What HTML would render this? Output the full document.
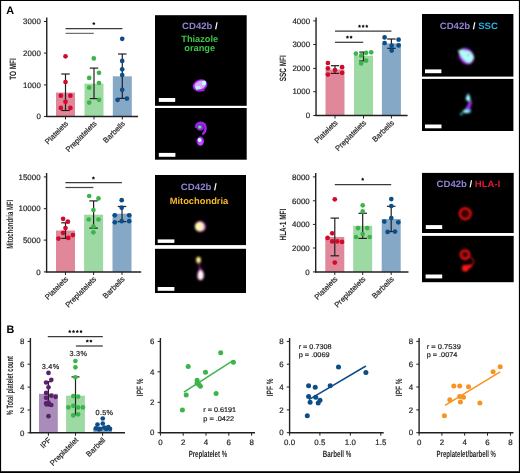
<!DOCTYPE html><html><head><meta charset="utf-8"><style>html,body{margin:0;padding:0;background:#fff;overflow:hidden;}svg{display:block;will-change:transform;}text{font-family:"Liberation Sans",sans-serif;text-rendering:geometricPrecision;}</style></head><body>
<svg width="520" height="473" viewBox="0 0 520 473">
<defs><filter id="bl0" x="-50%" y="-50%" width="200%" height="200%"><feGaussianBlur stdDeviation="0.55"/></filter><filter id="bl1" x="-50%" y="-50%" width="200%" height="200%"><feGaussianBlur stdDeviation="0.8"/></filter><filter id="bl2" x="-50%" y="-50%" width="200%" height="200%"><feGaussianBlur stdDeviation="1.4"/></filter></defs>
<rect x="0.00" y="0.00" width="520.00" height="473.00" fill="#fff" />
<text x="6.20" y="13.80" font-size="10.8" fill="#000" font-weight="bold">A</text>
<text x="6.40" y="333.20" font-size="10.8" fill="#000" font-weight="bold">B</text>
<line x1="46.75" y1="17.50" x2="46.75" y2="116.95" stroke="#231f20" stroke-width="1.4" />
<line x1="43.95" y1="21.50" x2="46.75" y2="21.50" stroke="#231f20" stroke-width="1.0" />
<text x="40.85" y="24.25" font-size="7.9" fill="#231f20" text-anchor="end" letter-spacing="0.05" stroke="#231f20" stroke-width="0.2">3000</text>
<line x1="43.95" y1="53.10" x2="46.75" y2="53.10" stroke="#231f20" stroke-width="1.0" />
<text x="40.85" y="55.85" font-size="7.9" fill="#231f20" text-anchor="end" letter-spacing="0.05" stroke="#231f20" stroke-width="0.2">2000</text>
<line x1="43.95" y1="84.90" x2="46.75" y2="84.90" stroke="#231f20" stroke-width="1.0" />
<text x="40.85" y="87.65" font-size="7.9" fill="#231f20" text-anchor="end" letter-spacing="0.05" stroke="#231f20" stroke-width="0.2">1000</text>
<line x1="43.95" y1="116.45" x2="46.75" y2="116.45" stroke="#231f20" stroke-width="1.0" />
<text x="40.85" y="119.20" font-size="7.9" fill="#231f20" text-anchor="end" letter-spacing="0.05" stroke="#231f20" stroke-width="0.2">0</text>
<rect x="56.00" y="92.60" width="19.00" height="23.85" fill="#e0879a" />
<rect x="84.50" y="83.70" width="19.00" height="32.75" fill="#9dd9a2" />
<rect x="112.80" y="76.30" width="19.00" height="40.15" fill="#86a8c7" />
<line x1="65.50" y1="74.00" x2="65.50" y2="110.50" stroke="#231f20" stroke-width="1.2" />
<line x1="61.25" y1="74.00" x2="69.75" y2="74.00" stroke="#231f20" stroke-width="1.2" />
<line x1="61.25" y1="110.50" x2="69.75" y2="110.50" stroke="#231f20" stroke-width="1.2" />
<line x1="94.00" y1="68.10" x2="94.00" y2="98.60" stroke="#231f20" stroke-width="1.2" />
<line x1="89.75" y1="68.10" x2="98.25" y2="68.10" stroke="#231f20" stroke-width="1.2" />
<line x1="89.75" y1="98.60" x2="98.25" y2="98.60" stroke="#231f20" stroke-width="1.2" />
<line x1="122.30" y1="54.00" x2="122.30" y2="98.40" stroke="#231f20" stroke-width="1.2" />
<line x1="118.05" y1="54.00" x2="126.55" y2="54.00" stroke="#231f20" stroke-width="1.2" />
<line x1="118.05" y1="98.40" x2="126.55" y2="98.40" stroke="#231f20" stroke-width="1.2" />
<circle cx="65.50" cy="56.30" r="2.35" fill="#cf0a2c"/>
<circle cx="65.50" cy="82.10" r="2.35" fill="#cf0a2c"/>
<circle cx="60.80" cy="95.70" r="2.35" fill="#cf0a2c"/>
<circle cx="70.40" cy="95.70" r="2.35" fill="#cf0a2c"/>
<circle cx="65.50" cy="101.80" r="2.35" fill="#cf0a2c"/>
<circle cx="60.80" cy="107.90" r="2.35" fill="#cf0a2c"/>
<circle cx="70.40" cy="107.90" r="2.35" fill="#cf0a2c"/>
<circle cx="93.80" cy="58.40" r="2.35" fill="#3bb54a"/>
<circle cx="89.20" cy="77.90" r="2.35" fill="#3bb54a"/>
<circle cx="99.00" cy="72.80" r="2.35" fill="#3bb54a"/>
<circle cx="99.00" cy="83.00" r="2.35" fill="#3bb54a"/>
<circle cx="89.20" cy="87.70" r="2.35" fill="#3bb54a"/>
<circle cx="89.20" cy="102.60" r="2.35" fill="#3bb54a"/>
<circle cx="99.00" cy="99.80" r="2.35" fill="#3bb54a"/>
<circle cx="122.20" cy="38.80" r="2.35" fill="#0c4d88"/>
<circle cx="122.20" cy="60.90" r="2.35" fill="#0c4d88"/>
<circle cx="122.20" cy="69.30" r="2.35" fill="#0c4d88"/>
<circle cx="122.20" cy="75.10" r="2.35" fill="#0c4d88"/>
<circle cx="122.20" cy="89.80" r="2.35" fill="#0c4d88"/>
<circle cx="117.60" cy="99.80" r="2.35" fill="#0c4d88"/>
<circle cx="126.90" cy="98.60" r="2.35" fill="#0c4d88"/>
<line x1="46.05" y1="116.45" x2="138.10" y2="116.45" stroke="#231f20" stroke-width="1.45" />
<line x1="65.50" y1="116.45" x2="65.50" y2="119.45" stroke="#231f20" stroke-width="1.0" />
<line x1="94.00" y1="116.45" x2="94.00" y2="119.45" stroke="#231f20" stroke-width="1.0" />
<line x1="122.30" y1="116.45" x2="122.30" y2="119.45" stroke="#231f20" stroke-width="1.0" />
<line x1="65.50" y1="28.50" x2="122.40" y2="28.50" stroke="#3a3a3a" stroke-width="1.25" />
<polygon points="93.80,21.90 93.20,22.77 92.18,23.07 92.83,23.92 92.80,24.98 93.80,24.62 94.80,24.98 94.77,23.92 95.42,23.07 94.40,22.77" fill="#111"/>
<line x1="65.50" y1="33.40" x2="93.80" y2="33.40" stroke="#707070" stroke-width="1.25" />
<g stroke="#231f20" stroke-width="0">
<text x="0.00" y="0.00" font-size="9.2" fill="#231f20" text-anchor="middle" textLength="21.6" lengthAdjust="spacingAndGlyphs" font-weight="bold" transform="translate(15.91,69.05) rotate(-90)">TO MFI</text>
</g>
<text x="0.00" y="0.00" font-size="7.6" fill="#231f20" text-anchor="end" transform="translate(68.70,124.15) rotate(-45)" stroke="#231f20" stroke-width="0.2">Platelets</text>
<text x="0.00" y="0.00" font-size="7.6" fill="#231f20" text-anchor="end" transform="translate(97.20,124.15) rotate(-45)" stroke="#231f20" stroke-width="0.2">Preplatelets</text>
<text x="0.00" y="0.00" font-size="7.6" fill="#231f20" text-anchor="end" transform="translate(125.50,124.15) rotate(-45)" stroke="#231f20" stroke-width="0.2">Barbells</text>
<line x1="316.05" y1="17.50" x2="316.05" y2="116.00" stroke="#231f20" stroke-width="1.4" />
<line x1="313.25" y1="20.90" x2="316.05" y2="20.90" stroke="#231f20" stroke-width="1.0" />
<text x="310.15" y="23.65" font-size="7.9" fill="#231f20" text-anchor="end" letter-spacing="0.05" stroke="#231f20" stroke-width="0.2">4000</text>
<line x1="313.25" y1="44.50" x2="316.05" y2="44.50" stroke="#231f20" stroke-width="1.0" />
<text x="310.15" y="47.25" font-size="7.9" fill="#231f20" text-anchor="end" letter-spacing="0.05" stroke="#231f20" stroke-width="0.2">3000</text>
<line x1="313.25" y1="68.40" x2="316.05" y2="68.40" stroke="#231f20" stroke-width="1.0" />
<text x="310.15" y="71.15" font-size="7.9" fill="#231f20" text-anchor="end" letter-spacing="0.05" stroke="#231f20" stroke-width="0.2">2000</text>
<line x1="313.25" y1="91.70" x2="316.05" y2="91.70" stroke="#231f20" stroke-width="1.0" />
<text x="310.15" y="94.45" font-size="7.9" fill="#231f20" text-anchor="end" letter-spacing="0.05" stroke="#231f20" stroke-width="0.2">1000</text>
<line x1="313.25" y1="115.50" x2="316.05" y2="115.50" stroke="#231f20" stroke-width="1.0" />
<text x="310.15" y="118.25" font-size="7.9" fill="#231f20" text-anchor="end" letter-spacing="0.05" stroke="#231f20" stroke-width="0.2">0</text>
<rect x="325.50" y="69.50" width="19.00" height="46.00" fill="#e0879a" />
<rect x="354.00" y="55.70" width="19.00" height="59.80" fill="#9dd9a2" />
<rect x="381.90" y="43.40" width="19.00" height="72.10" fill="#86a8c7" />
<line x1="335.00" y1="65.70" x2="335.00" y2="73.40" stroke="#231f20" stroke-width="1.2" />
<line x1="330.75" y1="65.70" x2="339.25" y2="65.70" stroke="#231f20" stroke-width="1.2" />
<line x1="330.75" y1="73.40" x2="339.25" y2="73.40" stroke="#231f20" stroke-width="1.2" />
<line x1="363.50" y1="52.10" x2="363.50" y2="61.00" stroke="#231f20" stroke-width="1.2" />
<line x1="359.25" y1="52.10" x2="367.75" y2="52.10" stroke="#231f20" stroke-width="1.2" />
<line x1="359.25" y1="61.00" x2="367.75" y2="61.00" stroke="#231f20" stroke-width="1.2" />
<line x1="391.40" y1="39.00" x2="391.40" y2="48.30" stroke="#231f20" stroke-width="1.2" />
<line x1="387.15" y1="39.00" x2="395.65" y2="39.00" stroke="#231f20" stroke-width="1.2" />
<line x1="387.15" y1="48.30" x2="395.65" y2="48.30" stroke="#231f20" stroke-width="1.2" />
<circle cx="327.90" cy="63.00" r="2.35" fill="#cf0a2c"/>
<circle cx="327.90" cy="68.30" r="2.35" fill="#cf0a2c"/>
<circle cx="327.90" cy="74.60" r="2.35" fill="#cf0a2c"/>
<circle cx="335.00" cy="70.10" r="2.35" fill="#cf0a2c"/>
<circle cx="342.10" cy="67.20" r="2.35" fill="#cf0a2c"/>
<circle cx="342.10" cy="72.80" r="2.35" fill="#cf0a2c"/>
<circle cx="355.90" cy="53.70" r="2.35" fill="#3bb54a"/>
<circle cx="361.20" cy="55.40" r="2.35" fill="#3bb54a"/>
<circle cx="366.10" cy="52.80" r="2.35" fill="#3bb54a"/>
<circle cx="371.20" cy="52.30" r="2.35" fill="#3bb54a"/>
<circle cx="366.10" cy="60.60" r="2.35" fill="#3bb54a"/>
<circle cx="361.20" cy="63.40" r="2.35" fill="#3bb54a"/>
<circle cx="384.60" cy="37.40" r="2.35" fill="#0c4d88"/>
<circle cx="398.60" cy="39.70" r="2.35" fill="#0c4d88"/>
<circle cx="384.60" cy="43.00" r="2.35" fill="#0c4d88"/>
<circle cx="398.60" cy="45.40" r="2.35" fill="#0c4d88"/>
<circle cx="391.70" cy="45.70" r="2.35" fill="#0c4d88"/>
<circle cx="391.70" cy="50.60" r="2.35" fill="#0c4d88"/>
<line x1="315.35" y1="115.50" x2="407.60" y2="115.50" stroke="#231f20" stroke-width="1.45" />
<line x1="335.00" y1="115.50" x2="335.00" y2="118.50" stroke="#231f20" stroke-width="1.0" />
<line x1="363.50" y1="115.50" x2="363.50" y2="118.50" stroke="#231f20" stroke-width="1.0" />
<line x1="391.40" y1="115.50" x2="391.40" y2="118.50" stroke="#231f20" stroke-width="1.0" />
<line x1="335.00" y1="31.20" x2="391.40" y2="31.20" stroke="#3a3a3a" stroke-width="1.25" />
<polygon points="359.50,24.60 358.90,25.47 357.88,25.77 358.53,26.62 358.50,27.68 359.50,27.32 360.50,27.68 360.47,26.62 361.12,25.77 360.10,25.47" fill="#111"/>
<polygon points="363.15,24.60 362.55,25.47 361.53,25.77 362.18,26.62 362.15,27.68 363.15,27.32 364.15,27.68 364.12,26.62 364.77,25.77 363.75,25.47" fill="#111"/>
<polygon points="366.80,24.60 366.20,25.47 365.18,25.77 365.83,26.62 365.80,27.68 366.80,27.32 367.80,27.68 367.77,26.62 368.42,25.77 367.40,25.47" fill="#111"/>
<line x1="335.00" y1="42.30" x2="363.20" y2="42.30" stroke="#3a3a3a" stroke-width="1.25" />
<polygon points="347.43,35.50 346.83,36.37 345.81,36.67 346.45,37.52 346.43,38.58 347.43,38.22 348.42,38.58 348.40,37.52 349.04,36.67 348.02,36.37" fill="#111"/>
<polygon points="351.07,35.50 350.48,36.37 349.46,36.67 350.10,37.52 350.08,38.58 351.07,38.22 352.07,38.58 352.05,37.52 352.69,36.67 351.67,36.37" fill="#111"/>
<g stroke="#231f20" stroke-width="0">
<text x="0.00" y="0.00" font-size="9.2" fill="#231f20" text-anchor="middle" textLength="25.8" lengthAdjust="spacingAndGlyphs" font-weight="bold" transform="translate(285.81,68.25) rotate(-90)">SSC MFI</text>
</g>
<text x="0.00" y="0.00" font-size="7.6" fill="#231f20" text-anchor="end" transform="translate(338.20,123.20) rotate(-45)" stroke="#231f20" stroke-width="0.2">Platelets</text>
<text x="0.00" y="0.00" font-size="7.6" fill="#231f20" text-anchor="end" transform="translate(366.70,123.20) rotate(-45)" stroke="#231f20" stroke-width="0.2">Preplatelets</text>
<text x="0.00" y="0.00" font-size="7.6" fill="#231f20" text-anchor="end" transform="translate(394.60,123.20) rotate(-45)" stroke="#231f20" stroke-width="0.2">Barbells</text>
<line x1="46.60" y1="173.00" x2="46.60" y2="272.40" stroke="#231f20" stroke-width="1.4" />
<line x1="43.80" y1="176.90" x2="46.60" y2="176.90" stroke="#231f20" stroke-width="1.0" />
<text x="40.70" y="179.65" font-size="7.9" fill="#231f20" text-anchor="end" letter-spacing="0.05" stroke="#231f20" stroke-width="0.2">15000</text>
<line x1="43.80" y1="208.70" x2="46.60" y2="208.70" stroke="#231f20" stroke-width="1.0" />
<text x="40.70" y="211.45" font-size="7.9" fill="#231f20" text-anchor="end" letter-spacing="0.05" stroke="#231f20" stroke-width="0.2">10000</text>
<line x1="43.80" y1="240.10" x2="46.60" y2="240.10" stroke="#231f20" stroke-width="1.0" />
<text x="40.70" y="242.85" font-size="7.9" fill="#231f20" text-anchor="end" letter-spacing="0.05" stroke="#231f20" stroke-width="0.2">5000</text>
<line x1="43.80" y1="271.90" x2="46.60" y2="271.90" stroke="#231f20" stroke-width="1.0" />
<text x="40.70" y="274.65" font-size="7.9" fill="#231f20" text-anchor="end" letter-spacing="0.05" stroke="#231f20" stroke-width="0.2">0</text>
<rect x="56.00" y="230.50" width="19.00" height="41.40" fill="#e0879a" />
<rect x="84.10" y="214.70" width="19.00" height="57.20" fill="#9dd9a2" />
<rect x="112.50" y="213.70" width="19.00" height="58.20" fill="#86a8c7" />
<line x1="65.50" y1="222.80" x2="65.50" y2="238.40" stroke="#231f20" stroke-width="1.2" />
<line x1="61.25" y1="222.80" x2="69.75" y2="222.80" stroke="#231f20" stroke-width="1.2" />
<line x1="61.25" y1="238.40" x2="69.75" y2="238.40" stroke="#231f20" stroke-width="1.2" />
<line x1="93.60" y1="200.90" x2="93.60" y2="228.10" stroke="#231f20" stroke-width="1.2" />
<line x1="89.35" y1="200.90" x2="97.85" y2="200.90" stroke="#231f20" stroke-width="1.2" />
<line x1="89.35" y1="228.10" x2="97.85" y2="228.10" stroke="#231f20" stroke-width="1.2" />
<line x1="122.00" y1="206.50" x2="122.00" y2="221.60" stroke="#231f20" stroke-width="1.2" />
<line x1="117.75" y1="206.50" x2="126.25" y2="206.50" stroke="#231f20" stroke-width="1.2" />
<line x1="117.75" y1="221.60" x2="126.25" y2="221.60" stroke="#231f20" stroke-width="1.2" />
<circle cx="63.10" cy="218.80" r="2.35" fill="#cf0a2c"/>
<circle cx="67.80" cy="221.60" r="2.35" fill="#cf0a2c"/>
<circle cx="65.50" cy="228.10" r="2.35" fill="#cf0a2c"/>
<circle cx="63.10" cy="232.80" r="2.35" fill="#cf0a2c"/>
<circle cx="58.50" cy="238.60" r="2.35" fill="#cf0a2c"/>
<circle cx="68.30" cy="237.90" r="2.35" fill="#cf0a2c"/>
<circle cx="72.90" cy="235.10" r="2.35" fill="#cf0a2c"/>
<circle cx="89.20" cy="196.00" r="2.35" fill="#3bb54a"/>
<circle cx="98.50" cy="198.40" r="2.35" fill="#3bb54a"/>
<circle cx="93.40" cy="210.00" r="2.35" fill="#3bb54a"/>
<circle cx="88.70" cy="219.50" r="2.35" fill="#3bb54a"/>
<circle cx="98.50" cy="219.50" r="2.35" fill="#3bb54a"/>
<circle cx="93.40" cy="226.50" r="2.35" fill="#3bb54a"/>
<circle cx="93.40" cy="232.30" r="2.35" fill="#3bb54a"/>
<circle cx="121.70" cy="200.20" r="2.35" fill="#0c4d88"/>
<circle cx="121.70" cy="207.70" r="2.35" fill="#0c4d88"/>
<circle cx="114.80" cy="215.30" r="2.35" fill="#0c4d88"/>
<circle cx="129.20" cy="215.30" r="2.35" fill="#0c4d88"/>
<circle cx="114.80" cy="222.30" r="2.35" fill="#0c4d88"/>
<circle cx="121.70" cy="221.20" r="2.35" fill="#0c4d88"/>
<circle cx="129.20" cy="221.20" r="2.35" fill="#0c4d88"/>
<line x1="45.90" y1="271.90" x2="141.20" y2="271.90" stroke="#231f20" stroke-width="1.45" />
<line x1="65.50" y1="271.90" x2="65.50" y2="274.90" stroke="#231f20" stroke-width="1.0" />
<line x1="93.60" y1="271.90" x2="93.60" y2="274.90" stroke="#231f20" stroke-width="1.0" />
<line x1="122.00" y1="271.90" x2="122.00" y2="274.90" stroke="#231f20" stroke-width="1.0" />
<line x1="65.40" y1="182.50" x2="121.90" y2="182.50" stroke="#3a3a3a" stroke-width="1.25" />
<polygon points="93.40,176.30 92.80,177.17 91.78,177.47 92.43,178.32 92.40,179.38 93.40,179.02 94.40,179.38 94.37,178.32 95.02,177.47 94.00,177.17" fill="#111"/>
<line x1="65.40" y1="187.50" x2="93.40" y2="187.50" stroke="#484848" stroke-width="1.25" />
<g stroke="#231f20" stroke-width="0">
<text x="0.00" y="0.00" font-size="9.2" fill="#231f20" text-anchor="middle" textLength="48.9" lengthAdjust="spacingAndGlyphs" font-weight="bold" transform="translate(13.11,224.40) rotate(-90)">Mitochondria MFI</text>
</g>
<text x="0.00" y="0.00" font-size="7.6" fill="#231f20" text-anchor="end" transform="translate(68.70,279.60) rotate(-45)" stroke="#231f20" stroke-width="0.2">Platelets</text>
<text x="0.00" y="0.00" font-size="7.6" fill="#231f20" text-anchor="end" transform="translate(96.80,279.60) rotate(-45)" stroke="#231f20" stroke-width="0.2">Preplatelets</text>
<text x="0.00" y="0.00" font-size="7.6" fill="#231f20" text-anchor="end" transform="translate(125.20,279.60) rotate(-45)" stroke="#231f20" stroke-width="0.2">Barbells</text>
<line x1="315.70" y1="173.00" x2="315.70" y2="272.40" stroke="#231f20" stroke-width="1.4" />
<line x1="312.90" y1="176.90" x2="315.70" y2="176.90" stroke="#231f20" stroke-width="1.0" />
<text x="309.80" y="179.65" font-size="7.9" fill="#231f20" text-anchor="end" letter-spacing="0.05" stroke="#231f20" stroke-width="0.2">8000</text>
<line x1="312.90" y1="200.80" x2="315.70" y2="200.80" stroke="#231f20" stroke-width="1.0" />
<text x="309.80" y="203.55" font-size="7.9" fill="#231f20" text-anchor="end" letter-spacing="0.05" stroke="#231f20" stroke-width="0.2">6000</text>
<line x1="312.90" y1="224.40" x2="315.70" y2="224.40" stroke="#231f20" stroke-width="1.0" />
<text x="309.80" y="227.15" font-size="7.9" fill="#231f20" text-anchor="end" letter-spacing="0.05" stroke="#231f20" stroke-width="0.2">4000</text>
<line x1="312.90" y1="248.00" x2="315.70" y2="248.00" stroke="#231f20" stroke-width="1.0" />
<text x="309.80" y="250.75" font-size="7.9" fill="#231f20" text-anchor="end" letter-spacing="0.05" stroke="#231f20" stroke-width="0.2">2000</text>
<line x1="312.90" y1="271.90" x2="315.70" y2="271.90" stroke="#231f20" stroke-width="1.0" />
<text x="309.80" y="274.65" font-size="7.9" fill="#231f20" text-anchor="end" letter-spacing="0.05" stroke="#231f20" stroke-width="0.2">0</text>
<rect x="325.30" y="237.00" width="19.00" height="34.90" fill="#e0879a" />
<rect x="353.20" y="225.80" width="19.00" height="46.10" fill="#9dd9a2" />
<rect x="381.70" y="219.00" width="19.00" height="52.90" fill="#86a8c7" />
<line x1="334.80" y1="218.10" x2="334.80" y2="255.80" stroke="#231f20" stroke-width="1.2" />
<line x1="330.55" y1="218.10" x2="339.05" y2="218.10" stroke="#231f20" stroke-width="1.2" />
<line x1="330.55" y1="255.80" x2="339.05" y2="255.80" stroke="#231f20" stroke-width="1.2" />
<line x1="362.70" y1="213.30" x2="362.70" y2="238.40" stroke="#231f20" stroke-width="1.2" />
<line x1="358.45" y1="213.30" x2="366.95" y2="213.30" stroke="#231f20" stroke-width="1.2" />
<line x1="358.45" y1="238.40" x2="366.95" y2="238.40" stroke="#231f20" stroke-width="1.2" />
<line x1="391.20" y1="206.30" x2="391.20" y2="231.60" stroke="#231f20" stroke-width="1.2" />
<line x1="386.95" y1="206.30" x2="395.45" y2="206.30" stroke="#231f20" stroke-width="1.2" />
<line x1="386.95" y1="231.60" x2="395.45" y2="231.60" stroke="#231f20" stroke-width="1.2" />
<circle cx="334.80" cy="199.30" r="2.35" fill="#cf0a2c"/>
<circle cx="332.20" cy="233.30" r="2.35" fill="#cf0a2c"/>
<circle cx="327.60" cy="237.90" r="2.35" fill="#cf0a2c"/>
<circle cx="332.20" cy="241.40" r="2.35" fill="#cf0a2c"/>
<circle cx="337.30" cy="241.40" r="2.35" fill="#cf0a2c"/>
<circle cx="342.00" cy="241.90" r="2.35" fill="#cf0a2c"/>
<circle cx="334.80" cy="262.60" r="2.35" fill="#cf0a2c"/>
<circle cx="362.70" cy="205.30" r="2.35" fill="#3bb54a"/>
<circle cx="362.70" cy="211.40" r="2.35" fill="#3bb54a"/>
<circle cx="358.00" cy="228.10" r="2.35" fill="#3bb54a"/>
<circle cx="367.30" cy="228.10" r="2.35" fill="#3bb54a"/>
<circle cx="362.70" cy="234.00" r="2.35" fill="#3bb54a"/>
<circle cx="356.00" cy="237.00" r="2.35" fill="#3bb54a"/>
<circle cx="369.70" cy="237.00" r="2.35" fill="#3bb54a"/>
<circle cx="391.30" cy="199.10" r="2.35" fill="#0c4d88"/>
<circle cx="391.30" cy="206.00" r="2.35" fill="#0c4d88"/>
<circle cx="391.30" cy="218.10" r="2.35" fill="#0c4d88"/>
<circle cx="384.30" cy="221.60" r="2.35" fill="#0c4d88"/>
<circle cx="398.30" cy="222.30" r="2.35" fill="#0c4d88"/>
<circle cx="387.60" cy="231.90" r="2.35" fill="#0c4d88"/>
<circle cx="395.00" cy="231.60" r="2.35" fill="#0c4d88"/>
<line x1="315.00" y1="271.90" x2="408.50" y2="271.90" stroke="#231f20" stroke-width="1.45" />
<line x1="334.80" y1="271.90" x2="334.80" y2="274.90" stroke="#231f20" stroke-width="1.0" />
<line x1="362.70" y1="271.90" x2="362.70" y2="274.90" stroke="#231f20" stroke-width="1.0" />
<line x1="391.20" y1="271.90" x2="391.20" y2="274.90" stroke="#231f20" stroke-width="1.0" />
<line x1="334.80" y1="184.50" x2="391.20" y2="184.50" stroke="#3a3a3a" stroke-width="1.25" />
<polygon points="362.70,177.60 362.10,178.47 361.08,178.77 361.73,179.62 361.70,180.68 362.70,180.32 363.70,180.68 363.67,179.62 364.32,178.77 363.30,178.47" fill="#111"/>
<g stroke="#231f20" stroke-width="0">
<text x="0.00" y="0.00" font-size="9.2" fill="#231f20" text-anchor="middle" textLength="31.7" lengthAdjust="spacingAndGlyphs" font-weight="bold" transform="translate(286.11,224.60) rotate(-90)">HLA-1 MFI</text>
</g>
<text x="0.00" y="0.00" font-size="7.6" fill="#231f20" text-anchor="end" transform="translate(338.00,279.60) rotate(-45)" stroke="#231f20" stroke-width="0.2">Platelets</text>
<text x="0.00" y="0.00" font-size="7.6" fill="#231f20" text-anchor="end" transform="translate(365.90,279.60) rotate(-45)" stroke="#231f20" stroke-width="0.2">Preplatelets</text>
<text x="0.00" y="0.00" font-size="7.6" fill="#231f20" text-anchor="end" transform="translate(394.40,279.60) rotate(-45)" stroke="#231f20" stroke-width="0.2">Barbells</text>
<line x1="30.40" y1="338.00" x2="30.40" y2="433.30" stroke="#231f20" stroke-width="1.4" />
<line x1="27.60" y1="341.40" x2="30.40" y2="341.40" stroke="#231f20" stroke-width="1.0" />
<text x="24.50" y="344.15" font-size="7.9" fill="#231f20" text-anchor="end" letter-spacing="0.05" stroke="#231f20" stroke-width="0.2">8</text>
<line x1="27.60" y1="364.20" x2="30.40" y2="364.20" stroke="#231f20" stroke-width="1.0" />
<text x="24.50" y="366.95" font-size="7.9" fill="#231f20" text-anchor="end" letter-spacing="0.05" stroke="#231f20" stroke-width="0.2">6</text>
<line x1="27.60" y1="387.10" x2="30.40" y2="387.10" stroke="#231f20" stroke-width="1.0" />
<text x="24.50" y="389.85" font-size="7.9" fill="#231f20" text-anchor="end" letter-spacing="0.05" stroke="#231f20" stroke-width="0.2">4</text>
<line x1="27.60" y1="410.00" x2="30.40" y2="410.00" stroke="#231f20" stroke-width="1.0" />
<text x="24.50" y="412.75" font-size="7.9" fill="#231f20" text-anchor="end" letter-spacing="0.05" stroke="#231f20" stroke-width="0.2">2</text>
<line x1="27.60" y1="432.80" x2="30.40" y2="432.80" stroke="#231f20" stroke-width="1.0" />
<text x="24.50" y="435.55" font-size="7.9" fill="#231f20" text-anchor="end" letter-spacing="0.05" stroke="#231f20" stroke-width="0.2">0</text>
<rect x="39.00" y="393.80" width="18.80" height="39.00" fill="#a98cba" />
<rect x="66.10" y="395.70" width="18.80" height="37.10" fill="#9dd9a2" />
<rect x="93.20" y="427.90" width="18.80" height="4.90" fill="#86a8c7" />
<line x1="48.40" y1="381.70" x2="48.40" y2="405.80" stroke="#231f20" stroke-width="1.2" />
<line x1="44.90" y1="381.70" x2="51.90" y2="381.70" stroke="#231f20" stroke-width="1.2" />
<line x1="44.90" y1="405.80" x2="51.90" y2="405.80" stroke="#231f20" stroke-width="1.2" />
<line x1="75.50" y1="376.90" x2="75.50" y2="414.80" stroke="#231f20" stroke-width="1.2" />
<line x1="71.50" y1="376.90" x2="79.50" y2="376.90" stroke="#231f20" stroke-width="1.2" />
<line x1="71.50" y1="414.80" x2="79.50" y2="414.80" stroke="#231f20" stroke-width="1.2" />
<circle cx="48.50" cy="372.90" r="2.35" fill="#5c1f6e"/>
<circle cx="51.30" cy="379.80" r="2.35" fill="#5c1f6e"/>
<circle cx="46.10" cy="382.50" r="2.35" fill="#5c1f6e"/>
<circle cx="48.50" cy="387.30" r="2.35" fill="#5c1f6e"/>
<circle cx="46.10" cy="392.90" r="2.35" fill="#5c1f6e"/>
<circle cx="51.30" cy="395.70" r="2.35" fill="#5c1f6e"/>
<circle cx="46.10" cy="397.80" r="2.35" fill="#5c1f6e"/>
<circle cx="55.60" cy="396.80" r="2.35" fill="#5c1f6e"/>
<circle cx="48.50" cy="402.60" r="2.35" fill="#5c1f6e"/>
<circle cx="46.10" cy="403.40" r="2.35" fill="#5c1f6e"/>
<circle cx="51.30" cy="405.00" r="2.35" fill="#5c1f6e"/>
<circle cx="48.50" cy="416.20" r="2.35" fill="#5c1f6e"/>
<circle cx="75.40" cy="361.00" r="2.35" fill="#3bb54a"/>
<circle cx="75.40" cy="367.30" r="2.35" fill="#3bb54a"/>
<circle cx="75.40" cy="377.30" r="2.35" fill="#3bb54a"/>
<circle cx="73.30" cy="396.10" r="2.35" fill="#3bb54a"/>
<circle cx="78.10" cy="396.60" r="2.35" fill="#3bb54a"/>
<circle cx="68.40" cy="407.40" r="2.35" fill="#3bb54a"/>
<circle cx="73.30" cy="405.80" r="2.35" fill="#3bb54a"/>
<circle cx="78.10" cy="407.40" r="2.35" fill="#3bb54a"/>
<circle cx="82.90" cy="407.40" r="2.35" fill="#3bb54a"/>
<circle cx="73.30" cy="415.40" r="2.35" fill="#3bb54a"/>
<circle cx="78.10" cy="414.30" r="2.35" fill="#3bb54a"/>
<circle cx="102.75" cy="418.50" r="2.35" fill="#0c4d88"/>
<circle cx="102.75" cy="423.50" r="2.35" fill="#0c4d88"/>
<circle cx="97.50" cy="424.60" r="2.35" fill="#0c4d88"/>
<circle cx="95.90" cy="428.40" r="2.35" fill="#0c4d88"/>
<circle cx="100.30" cy="428.90" r="2.35" fill="#0c4d88"/>
<circle cx="104.30" cy="427.60" r="2.35" fill="#0c4d88"/>
<circle cx="108.30" cy="427.20" r="2.35" fill="#0c4d88"/>
<circle cx="110.00" cy="428.80" r="2.35" fill="#0c4d88"/>
<circle cx="106.20" cy="429.00" r="2.35" fill="#0c4d88"/>
<circle cx="99.00" cy="429.30" r="2.35" fill="#0c4d88"/>
<line x1="29.70" y1="432.80" x2="125.00" y2="432.80" stroke="#231f20" stroke-width="1.45" />
<line x1="48.40" y1="432.80" x2="48.40" y2="435.80" stroke="#231f20" stroke-width="1.0" />
<line x1="75.50" y1="432.80" x2="75.50" y2="435.80" stroke="#231f20" stroke-width="1.0" />
<line x1="102.60" y1="432.80" x2="102.60" y2="435.80" stroke="#231f20" stroke-width="1.0" />
<line x1="47.80" y1="336.70" x2="102.80" y2="336.70" stroke="#3a3a3a" stroke-width="1.25" />
<polygon points="69.78,329.80 69.18,330.67 68.16,330.97 68.80,331.82 68.78,332.88 69.78,332.52 70.77,332.88 70.75,331.82 71.39,330.97 70.37,330.67" fill="#111"/>
<polygon points="73.53,329.80 72.93,330.67 71.91,330.97 72.55,331.82 72.53,332.88 73.53,332.52 74.52,332.88 74.50,331.82 75.14,330.97 74.12,330.67" fill="#111"/>
<polygon points="77.28,329.80 76.68,330.67 75.66,330.97 76.30,331.82 76.28,332.88 77.28,332.52 78.27,332.88 78.25,331.82 78.89,330.97 77.87,330.67" fill="#111"/>
<polygon points="81.03,329.80 80.43,330.67 79.41,330.97 80.05,331.82 80.03,332.88 81.03,332.52 82.02,332.88 82.00,331.82 82.64,330.97 81.62,330.67" fill="#111"/>
<line x1="75.90" y1="346.00" x2="102.80" y2="346.00" stroke="#3a3a3a" stroke-width="1.25" />
<polygon points="87.30,339.40 86.70,340.27 85.68,340.57 86.33,341.42 86.30,342.48 87.30,342.12 88.30,342.48 88.27,341.42 88.92,340.57 87.90,340.27" fill="#111"/>
<polygon points="90.90,339.40 90.30,340.27 89.28,340.57 89.93,341.42 89.90,342.48 90.90,342.12 91.90,342.48 91.87,341.42 92.52,340.57 91.50,340.27" fill="#111"/>
<text x="50.60" y="369.20" font-size="7.3" fill="#231f20" text-anchor="middle" letter-spacing="0.3" stroke="#231f20" stroke-width="0.2">3.4%</text>
<text x="78.30" y="355.80" font-size="7.3" fill="#231f20" text-anchor="middle" letter-spacing="0.3" stroke="#231f20" stroke-width="0.2">3.3%</text>
<text x="104.50" y="414.90" font-size="7.3" fill="#231f20" text-anchor="middle" letter-spacing="0.3" stroke="#231f20" stroke-width="0.2">0.5%</text>
<g stroke="#231f20" stroke-width="0">
<text x="0.00" y="0.00" font-size="9.2" fill="#231f20" text-anchor="middle" textLength="59.2" lengthAdjust="spacingAndGlyphs" font-weight="bold" transform="translate(13.16,385.65) rotate(-90)">% Total platelet count</text>
</g>
<text x="0.00" y="0.00" font-size="7.6" fill="#231f20" text-anchor="end" transform="translate(51.60,440.50) rotate(-45)" stroke="#231f20" stroke-width="0.2">IPF</text>
<text x="0.00" y="0.00" font-size="7.6" fill="#231f20" text-anchor="end" transform="translate(78.70,440.50) rotate(-45)" stroke="#231f20" stroke-width="0.2">Preplatelet</text>
<text x="0.00" y="0.00" font-size="7.6" fill="#231f20" text-anchor="end" transform="translate(105.80,440.50) rotate(-45)" stroke="#231f20" stroke-width="0.2">Barbell</text>
<line x1="160.40" y1="338.00" x2="160.40" y2="433.20" stroke="#231f20" stroke-width="1.4" />
<line x1="157.60" y1="341.40" x2="160.40" y2="341.40" stroke="#231f20" stroke-width="1.0" />
<text x="154.50" y="344.15" font-size="7.9" fill="#231f20" text-anchor="end" letter-spacing="0.05" stroke="#231f20" stroke-width="0.2">6</text>
<line x1="157.60" y1="371.80" x2="160.40" y2="371.80" stroke="#231f20" stroke-width="1.0" />
<text x="154.50" y="374.55" font-size="7.9" fill="#231f20" text-anchor="end" letter-spacing="0.05" stroke="#231f20" stroke-width="0.2">4</text>
<line x1="157.60" y1="402.30" x2="160.40" y2="402.30" stroke="#231f20" stroke-width="1.0" />
<text x="154.50" y="405.05" font-size="7.9" fill="#231f20" text-anchor="end" letter-spacing="0.05" stroke="#231f20" stroke-width="0.2">2</text>
<line x1="157.60" y1="432.70" x2="160.40" y2="432.70" stroke="#231f20" stroke-width="1.0" />
<text x="154.50" y="435.45" font-size="7.9" fill="#231f20" text-anchor="end" letter-spacing="0.05" stroke="#231f20" stroke-width="0.2">0</text>
<line x1="159.70" y1="432.70" x2="255.00" y2="432.70" stroke="#231f20" stroke-width="1.45" />
<line x1="160.40" y1="432.70" x2="160.40" y2="435.70" stroke="#231f20" stroke-width="1.0" />
<text x="160.43" y="444.80" font-size="7.9" fill="#231f20" text-anchor="middle" letter-spacing="0.05" stroke="#231f20" stroke-width="0.2">0</text>
<line x1="183.20" y1="432.70" x2="183.20" y2="435.70" stroke="#231f20" stroke-width="1.0" />
<text x="183.22" y="444.80" font-size="7.9" fill="#231f20" text-anchor="middle" letter-spacing="0.05" stroke="#231f20" stroke-width="0.2">2</text>
<line x1="206.00" y1="432.70" x2="206.00" y2="435.70" stroke="#231f20" stroke-width="1.0" />
<text x="206.03" y="444.80" font-size="7.9" fill="#231f20" text-anchor="middle" letter-spacing="0.05" stroke="#231f20" stroke-width="0.2">4</text>
<line x1="228.80" y1="432.70" x2="228.80" y2="435.70" stroke="#231f20" stroke-width="1.0" />
<text x="228.83" y="444.80" font-size="7.9" fill="#231f20" text-anchor="middle" letter-spacing="0.05" stroke="#231f20" stroke-width="0.2">6</text>
<line x1="251.60" y1="432.70" x2="251.60" y2="435.70" stroke="#231f20" stroke-width="1.0" />
<text x="251.62" y="444.80" font-size="7.9" fill="#231f20" text-anchor="middle" letter-spacing="0.05" stroke="#231f20" stroke-width="0.2">8</text>
<line x1="183.90" y1="392.10" x2="232.10" y2="361.20" stroke="#3bb54a" stroke-width="1.5" />
<circle cx="182.40" cy="409.90" r="2.5" fill="#3bb54a"/>
<circle cx="186.20" cy="394.90" r="2.5" fill="#3bb54a"/>
<circle cx="188.20" cy="366.50" r="2.5" fill="#3bb54a"/>
<circle cx="197.10" cy="380.20" r="2.5" fill="#3bb54a"/>
<circle cx="197.10" cy="383.20" r="2.5" fill="#3bb54a"/>
<circle cx="199.00" cy="384.50" r="2.5" fill="#3bb54a"/>
<circle cx="200.40" cy="386.30" r="2.5" fill="#3bb54a"/>
<circle cx="205.50" cy="372.30" r="2.5" fill="#3bb54a"/>
<circle cx="216.10" cy="393.60" r="2.5" fill="#3bb54a"/>
<circle cx="220.70" cy="352.80" r="2.5" fill="#3bb54a"/>
<circle cx="233.40" cy="362.20" r="2.5" fill="#3bb54a"/>
<g stroke="#231f20" stroke-width="0">
<text x="0.00" y="0.00" font-size="9.2" fill="#231f20" text-anchor="middle" textLength="17.7" lengthAdjust="spacingAndGlyphs" font-weight="bold" transform="translate(142.96,387.30) rotate(-90)">IPF %</text>
</g>
<g stroke="#231f20" stroke-width="0">
<text x="207.90" y="456.60" font-size="9.2" fill="#231f20" text-anchor="middle" textLength="38.5" lengthAdjust="spacingAndGlyphs" font-weight="bold">Preplatelet %</text>
</g>
<text x="203.30" y="412.00" font-size="6.8" fill="#231f20" textLength="32.8" lengthAdjust="spacingAndGlyphs" stroke="#231f20" stroke-width="0.2">r = 0.6191</text>
<text x="203.30" y="420.50" font-size="6.8" fill="#231f20" textLength="30.8" lengthAdjust="spacingAndGlyphs" stroke="#231f20" stroke-width="0.2">p = .0422</text>
<line x1="289.60" y1="338.00" x2="289.60" y2="433.20" stroke="#231f20" stroke-width="1.4" />
<line x1="286.80" y1="341.40" x2="289.60" y2="341.40" stroke="#231f20" stroke-width="1.0" />
<text x="283.70" y="344.15" font-size="7.9" fill="#231f20" text-anchor="end" letter-spacing="0.05" stroke="#231f20" stroke-width="0.2">8</text>
<line x1="286.80" y1="364.20" x2="289.60" y2="364.20" stroke="#231f20" stroke-width="1.0" />
<text x="283.70" y="366.95" font-size="7.9" fill="#231f20" text-anchor="end" letter-spacing="0.05" stroke="#231f20" stroke-width="0.2">6</text>
<line x1="286.80" y1="387.00" x2="289.60" y2="387.00" stroke="#231f20" stroke-width="1.0" />
<text x="283.70" y="389.75" font-size="7.9" fill="#231f20" text-anchor="end" letter-spacing="0.05" stroke="#231f20" stroke-width="0.2">4</text>
<line x1="286.80" y1="409.90" x2="289.60" y2="409.90" stroke="#231f20" stroke-width="1.0" />
<text x="283.70" y="412.65" font-size="7.9" fill="#231f20" text-anchor="end" letter-spacing="0.05" stroke="#231f20" stroke-width="0.2">2</text>
<line x1="286.80" y1="432.70" x2="289.60" y2="432.70" stroke="#231f20" stroke-width="1.0" />
<text x="283.70" y="435.45" font-size="7.9" fill="#231f20" text-anchor="end" letter-spacing="0.05" stroke="#231f20" stroke-width="0.2">0</text>
<line x1="288.90" y1="432.70" x2="383.70" y2="432.70" stroke="#231f20" stroke-width="1.45" />
<line x1="289.60" y1="432.70" x2="289.60" y2="435.70" stroke="#231f20" stroke-width="1.0" />
<text x="289.62" y="444.80" font-size="7.9" fill="#231f20" text-anchor="middle" letter-spacing="0.05" stroke="#231f20" stroke-width="0.2">0.0</text>
<line x1="319.90" y1="432.70" x2="319.90" y2="435.70" stroke="#231f20" stroke-width="1.0" />
<text x="319.92" y="444.80" font-size="7.9" fill="#231f20" text-anchor="middle" letter-spacing="0.05" stroke="#231f20" stroke-width="0.2">0.5</text>
<line x1="350.30" y1="432.70" x2="350.30" y2="435.70" stroke="#231f20" stroke-width="1.0" />
<text x="350.32" y="444.80" font-size="7.9" fill="#231f20" text-anchor="middle" letter-spacing="0.05" stroke="#231f20" stroke-width="0.2">1.0</text>
<line x1="380.80" y1="432.70" x2="380.80" y2="435.70" stroke="#231f20" stroke-width="1.0" />
<text x="380.82" y="444.80" font-size="7.9" fill="#231f20" text-anchor="middle" letter-spacing="0.05" stroke="#231f20" stroke-width="0.2">1.5</text>
<line x1="308.90" y1="399.70" x2="365.90" y2="366.00" stroke="#0c4d88" stroke-width="1.5" />
<circle cx="307.30" cy="415.70" r="2.5" fill="#0c4d88"/>
<circle cx="308.60" cy="385.80" r="2.5" fill="#0c4d88"/>
<circle cx="308.60" cy="396.40" r="2.5" fill="#0c4d88"/>
<circle cx="310.10" cy="402.30" r="2.5" fill="#0c4d88"/>
<circle cx="315.20" cy="387.30" r="2.5" fill="#0c4d88"/>
<circle cx="315.70" cy="397.20" r="2.5" fill="#0c4d88"/>
<circle cx="318.20" cy="403.00" r="2.5" fill="#0c4d88"/>
<circle cx="320.00" cy="400.20" r="2.5" fill="#0c4d88"/>
<circle cx="330.20" cy="385.80" r="2.5" fill="#0c4d88"/>
<circle cx="338.50" cy="367.00" r="2.5" fill="#0c4d88"/>
<circle cx="365.90" cy="372.60" r="2.5" fill="#0c4d88"/>
<g stroke="#231f20" stroke-width="0">
<text x="0.00" y="0.00" font-size="9.2" fill="#231f20" text-anchor="middle" textLength="17.7" lengthAdjust="spacingAndGlyphs" font-weight="bold" transform="translate(272.86,387.40) rotate(-90)">IPF %</text>
</g>
<g stroke="#231f20" stroke-width="0">
<text x="337.00" y="456.60" font-size="9.2" fill="#231f20" text-anchor="middle" textLength="28.4" lengthAdjust="spacingAndGlyphs" font-weight="bold">Barbell %</text>
</g>
<text x="298.70" y="348.60" font-size="6.8" fill="#231f20" textLength="32.9" lengthAdjust="spacingAndGlyphs" stroke="#231f20" stroke-width="0.2">r = 0.7308</text>
<text x="298.70" y="357.10" font-size="6.8" fill="#231f20" textLength="31.0" lengthAdjust="spacingAndGlyphs" stroke="#231f20" stroke-width="0.2">p = .0069</text>
<line x1="419.10" y1="338.00" x2="419.10" y2="433.20" stroke="#231f20" stroke-width="1.4" />
<line x1="416.30" y1="341.40" x2="419.10" y2="341.40" stroke="#231f20" stroke-width="1.0" />
<text x="413.20" y="344.15" font-size="7.9" fill="#231f20" text-anchor="end" letter-spacing="0.05" stroke="#231f20" stroke-width="0.2">8</text>
<line x1="416.30" y1="364.20" x2="419.10" y2="364.20" stroke="#231f20" stroke-width="1.0" />
<text x="413.20" y="366.95" font-size="7.9" fill="#231f20" text-anchor="end" letter-spacing="0.05" stroke="#231f20" stroke-width="0.2">6</text>
<line x1="416.30" y1="387.00" x2="419.10" y2="387.00" stroke="#231f20" stroke-width="1.0" />
<text x="413.20" y="389.75" font-size="7.9" fill="#231f20" text-anchor="end" letter-spacing="0.05" stroke="#231f20" stroke-width="0.2">4</text>
<line x1="416.30" y1="409.90" x2="419.10" y2="409.90" stroke="#231f20" stroke-width="1.0" />
<text x="413.20" y="412.65" font-size="7.9" fill="#231f20" text-anchor="end" letter-spacing="0.05" stroke="#231f20" stroke-width="0.2">2</text>
<line x1="416.30" y1="432.70" x2="419.10" y2="432.70" stroke="#231f20" stroke-width="1.0" />
<text x="413.20" y="435.45" font-size="7.9" fill="#231f20" text-anchor="end" letter-spacing="0.05" stroke="#231f20" stroke-width="0.2">0</text>
<line x1="418.40" y1="432.70" x2="513.40" y2="432.70" stroke="#231f20" stroke-width="1.45" />
<line x1="419.10" y1="432.70" x2="419.10" y2="435.70" stroke="#231f20" stroke-width="1.0" />
<text x="419.12" y="444.80" font-size="7.9" fill="#231f20" text-anchor="middle" letter-spacing="0.05" stroke="#231f20" stroke-width="0.2">0</text>
<line x1="441.90" y1="432.70" x2="441.90" y2="435.70" stroke="#231f20" stroke-width="1.0" />
<text x="441.92" y="444.80" font-size="7.9" fill="#231f20" text-anchor="middle" letter-spacing="0.05" stroke="#231f20" stroke-width="0.2">2</text>
<line x1="464.70" y1="432.70" x2="464.70" y2="435.70" stroke="#231f20" stroke-width="1.0" />
<text x="464.72" y="444.80" font-size="7.9" fill="#231f20" text-anchor="middle" letter-spacing="0.05" stroke="#231f20" stroke-width="0.2">4</text>
<line x1="487.50" y1="432.70" x2="487.50" y2="435.70" stroke="#231f20" stroke-width="1.0" />
<text x="487.52" y="444.80" font-size="7.9" fill="#231f20" text-anchor="middle" letter-spacing="0.05" stroke="#231f20" stroke-width="0.2">6</text>
<line x1="510.40" y1="432.70" x2="510.40" y2="435.70" stroke="#231f20" stroke-width="1.0" />
<text x="510.42" y="444.80" font-size="7.9" fill="#231f20" text-anchor="middle" letter-spacing="0.05" stroke="#231f20" stroke-width="0.2">8</text>
<line x1="445.00" y1="405.30" x2="500.20" y2="371.80" stroke="#f7931e" stroke-width="1.5" />
<circle cx="444.40" cy="415.70" r="2.5" fill="#f7931e"/>
<circle cx="449.80" cy="399.70" r="2.5" fill="#f7931e"/>
<circle cx="453.80" cy="386.00" r="2.5" fill="#f7931e"/>
<circle cx="459.70" cy="386.00" r="2.5" fill="#f7931e"/>
<circle cx="459.70" cy="396.40" r="2.5" fill="#f7931e"/>
<circle cx="460.40" cy="402.00" r="2.5" fill="#f7931e"/>
<circle cx="463.50" cy="397.20" r="2.5" fill="#f7931e"/>
<circle cx="468.50" cy="386.80" r="2.5" fill="#f7931e"/>
<circle cx="479.90" cy="403.00" r="2.5" fill="#f7931e"/>
<circle cx="493.10" cy="371.80" r="2.5" fill="#f7931e"/>
<circle cx="500.20" cy="366.80" r="2.5" fill="#f7931e"/>
<g stroke="#231f20" stroke-width="0">
<text x="0.00" y="0.00" font-size="9.2" fill="#231f20" text-anchor="middle" textLength="17.7" lengthAdjust="spacingAndGlyphs" font-weight="bold" transform="translate(401.91,387.30) rotate(-90)">IPF %</text>
</g>
<g stroke="#231f20" stroke-width="0">
<text x="466.30" y="456.60" font-size="9.2" fill="#231f20" text-anchor="middle" textLength="59.4" lengthAdjust="spacingAndGlyphs" font-weight="bold">Preplatelet/barbell %</text>
</g>
<text x="426.70" y="348.60" font-size="6.8" fill="#231f20" textLength="34.2" lengthAdjust="spacingAndGlyphs" stroke="#231f20" stroke-width="0.2">r = 0.7539</text>
<text x="426.70" y="357.10" font-size="6.8" fill="#231f20" textLength="30.7" lengthAdjust="spacingAndGlyphs" stroke="#231f20" stroke-width="0.2">p = .0074</text>
<rect x="155.00" y="15.20" width="91.70" height="90.60" fill="#000" />
<rect x="155.00" y="108.00" width="91.70" height="51.70" fill="#000" />
<rect x="158.80" y="98.00" width="16.40" height="3.90" fill="#fff" />
<rect x="158.80" y="152.90" width="16.60" height="3.90" fill="#fff" />
<text x="199.9" y="28.6" font-size="9.2" font-weight="bold" text-anchor="middle" textLength="35.7" lengthAdjust="spacingAndGlyphs"><tspan fill="#8c82d2">CD42b </tspan><tspan fill="#fff">/</tspan></text>
<text x="199.70" y="41.60" font-size="9.2" fill="#3cc444" text-anchor="middle" textLength="36.9" lengthAdjust="spacingAndGlyphs" font-weight="bold">Thiazole</text>
<text x="199.75" y="51.10" font-size="9.2" fill="#3cc444" text-anchor="middle" textLength="30.900000000000002" lengthAdjust="spacingAndGlyphs" font-weight="bold">orange</text>
<g filter="url(#bl0)"><ellipse cx="200" cy="85.4" rx="7.5" ry="5.8" fill="#a020ee" transform="rotate(-22 200 85.4)"/><ellipse cx="200.2" cy="85.1" rx="5.9" ry="4.2" fill="#d8a8ff" transform="rotate(-22 200 85.4)"/><ellipse cx="198.2" cy="88" rx="2.6" ry="2.2" fill="#b0ffd8"/><ellipse cx="204" cy="83" rx="2.2" ry="2.6" fill="#b8fff0"/><ellipse cx="201" cy="90.3" rx="4" ry="1.3" fill="#b020e0" opacity="0.8"/></g>
<g filter="url(#bl0)"><path d="M196.3 127 Q196.5 123 200.6 122.9 Q205.6 123.3 205.6 128.3 Q205.4 131.6 203.2 133.6" fill="none" stroke="#a020ee" stroke-width="2.6" stroke-linecap="round"/><ellipse cx="200.3" cy="127.4" rx="3.6" ry="3.3" fill="#8a28d0"/><ellipse cx="200.3" cy="141.3" rx="3.8" ry="4.7" fill="#a020ee"/><ellipse cx="200.6" cy="142.5" rx="2.3" ry="2.6" fill="#c050f8"/><circle cx="199.8" cy="127.1" r="1.7" fill="#50f090"/><circle cx="199.6" cy="140" r="2" fill="#c8fff0"/></g>
<rect x="422.00" y="14.00" width="91.40" height="62.60" fill="#000" />
<rect x="422.00" y="78.90" width="91.40" height="52.10" fill="#000" />
<rect x="425.00" y="69.40" width="16.40" height="3.80" fill="#fff" />
<rect x="425.00" y="124.50" width="16.50" height="3.80" fill="#fff" />
<text x="468.85" y="29" font-size="9.2" font-weight="bold" text-anchor="middle" textLength="58.3" lengthAdjust="spacingAndGlyphs"><tspan fill="#8c82d2">CD42b </tspan><tspan fill="#fff">/ </tspan><tspan fill="#29aee6">SSC</tspan></text>
<g filter="url(#bl1)"><ellipse cx="466.4" cy="56.2" rx="7.2" ry="8.8" fill="#a428e8" transform="rotate(-35 466.4 56.2)"/><path d="M457.8 50.5 L461.5 49.5 Q464.5 51 468 50.5 Q472 52.5 474.3 57.5 Q472.5 61 469.5 63 Q466.5 62.5 464.5 60.5 Q461 57 459.5 53.5 Z" fill="#b0fff6"/><circle cx="468.2" cy="55" r="1.0" fill="#b070e8"/></g>
<g filter="url(#bl1)"><path d="M468.2 93.2 Q470.8 96.5 470.6 99.2 Q469.8 101.5 467.8 101.3 Q465.6 100.8 465.8 98.2 Q466.3 95.8 468.2 93.2Z" fill="#70f4ff"/><ellipse cx="468" cy="98.6" rx="1.4" ry="1.8" fill="#c8fffc"/><path d="M470.3 101.8 Q470 106 466.5 109.5" stroke="#a038f8" stroke-width="3.2" fill="none" stroke-linecap="round"/><path d="M462 111.2 Q464 109.2 468 109.6 Q471.2 110 471 111.8 Q469.5 113.4 466 113.3 Q462.6 113 462 111.2Z" fill="#58ecfa"/><ellipse cx="466" cy="111.4" rx="2.2" ry="1.1" fill="#b8fff8"/><ellipse cx="469" cy="109.2" rx="1.8" ry="1.3" fill="#8048f0"/><circle cx="461.3" cy="114" r="1.2" fill="#40e0d0"/></g>
<rect x="155.00" y="175.00" width="91.00" height="70.10" fill="#000" />
<rect x="155.00" y="248.80" width="91.00" height="44.20" fill="#000" />
<rect x="157.70" y="239.40" width="16.70" height="3.50" fill="#fff" />
<rect x="157.70" y="287.00" width="16.70" height="3.80" fill="#fff" />
<text x="198.8" y="189.5" font-size="9.2" font-weight="bold" text-anchor="middle" textLength="36" lengthAdjust="spacingAndGlyphs"><tspan fill="#8c82d2">CD42b </tspan><tspan fill="#fff">/</tspan></text>
<text x="199.00" y="203.70" font-size="9.2" fill="#f5b829" text-anchor="middle" textLength="58.6" lengthAdjust="spacingAndGlyphs" font-weight="bold">Mitochondria</text>
<g filter="url(#bl1)"><circle cx="200.2" cy="226.4" r="5.3" fill="#d848e0"/><circle cx="199.6" cy="226.7" r="4.6" fill="#fff4a0"/><circle cx="198" cy="226" r="2.8" fill="#ffffb8"/><ellipse cx="203.8" cy="227.5" rx="1.2" ry="2.6" fill="#f8a8f0"/></g>
<g filter="url(#bl1)"><ellipse cx="198.5" cy="259.9" rx="2.4" ry="3.2" fill="#ffe45a"/><ellipse cx="198.6" cy="259.4" rx="1.4" ry="1.9" fill="#fff8c0"/><path d="M198.9 262.8 L199.8 269.5" stroke="#c030c0" stroke-width="1.0"/><path d="M200.6 268.6 Q204.4 272 204 276 Q203.2 280.4 200.5 280.4 Q197.2 280.2 197.3 275.5 Q197.6 271 200.6 268.6Z" fill="#f070e8"/><ellipse cx="200.6" cy="275.3" rx="2.6" ry="4.3" fill="#fffaf0"/></g>
<rect x="422.00" y="172.90" width="91.70" height="60.10" fill="#000" />
<rect x="422.00" y="235.90" width="91.70" height="46.30" fill="#000" />
<rect x="425.80" y="225.10" width="16.40" height="3.90" fill="#fff" />
<rect x="425.60" y="274.50" width="16.60" height="3.90" fill="#fff" />
<text x="468.45" y="187.3" font-size="9.2" font-weight="bold" text-anchor="middle" textLength="63.7" lengthAdjust="spacingAndGlyphs"><tspan fill="#8c82d2">CD42b </tspan><tspan fill="#fff">/ </tspan><tspan fill="#e5173f">HLA-I</tspan></text>
<g filter="url(#bl1)"><circle cx="465.2" cy="213.7" r="5.6" fill="#380000" stroke="#f81212" stroke-width="1.8"/></g>
<g filter="url(#bl1)"><circle cx="465" cy="254.6" r="4.4" fill="#4a0404" stroke="#f81414" stroke-width="1.9"/><path d="M469 256.8 Q473.6 258.2 473.6 261.8 Q473.3 264.6 470.5 265.6" stroke="#d01414" stroke-width="1.2" fill="none"/><circle cx="465.3" cy="268.2" r="3.4" fill="#ff1818"/><path d="M465.5 265.2 Q469.5 264.2 472.4 264.9 Q472.2 267.4 468.5 268.6 Z" fill="#ff1818"/></g>
<rect x="0.00" y="0.00" width="520.00" height="1.00" fill="#000" />
<rect x="0.00" y="0.00" width="1.10" height="473.00" fill="#000" />
<rect x="518.90" y="0.00" width="1.10" height="473.00" fill="#000" />
<rect x="0.00" y="471.20" width="520.00" height="1.80" fill="#000" />
</svg></body></html>
